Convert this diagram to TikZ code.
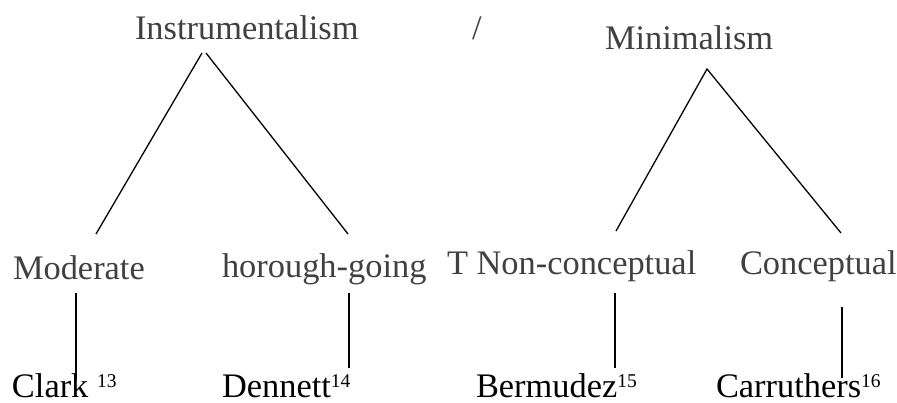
\documentclass[tikz,border=0pt]{standalone}
\usepackage{fontspec}
\setmainfont{Liberation Serif}
\definecolor{headgray}{HTML}{404040}
\newcommand{\fnmark}[1]{\textsuperscript{\fontsize{19.5}{20}\selectfont #1}}
\begin{document}
\begin{tikzpicture}[x=1pt,y=-1pt,
  txtbase/.style={anchor=base west,inner sep=0pt,outer sep=0pt,font=\fontsize{34.4}{40}\selectfont},
  headtxt/.style={txtbase,text=headgray},
  persontxt/.style={txtbase,text=black,text depth=0pt},
  branch/.style={draw=black,line width=1.3pt}]
\useasboundingbox (0,0) rectangle (897,403);

% upper row
\node[headtxt] (instr) at (135,40) {Instrumentalism};
\node[headtxt] (slash) at (472,40) {/};
\node[headtxt] (minim) at (605,50) {Minimalism};

% middle row
\node[headtxt] (moderate) at (13,280) {Moderate};
\node[headtxt] (thorough) at (222,278) {horough-going};
\node[headtxt] (noncon) at (447,275) {T Non-conceptual};
\node[headtxt] (concept) at (740,275) {Conceptual};

% lower row with footnote marks
\node[persontxt] (clark) at (12,397) {Clark \fnmark{13}};
\node[persontxt] (dennett) at (222,397) {Dennett\fnmark{14}};
\node[persontxt] (bermudez) at (476,397) {Bermudez\fnmark{15}};
\node[persontxt] (carruthers) at (716,397) {Carruthers\fnmark{16}};

% connector end points
\coordinate (instr-l) at (202,53);
\coordinate (instr-r) at (206,53);
\coordinate (moderate-top) at (96,234);
\coordinate (thorough-top) at (348,234);
\coordinate (minim-apex) at (707,69);
\coordinate (noncon-top) at (616,231);
\coordinate (concept-top) at (841,233);
\coordinate (moderate-bot) at (76,293);
\coordinate (clark-top) at (76,380);
\coordinate (thorough-bot) at (349,293);
\coordinate (dennett-top) at (349,368);
\coordinate (noncon-bot) at (615,293);
\coordinate (bermudez-top) at (615,368);
\coordinate (concept-bot) at (842,307);
\coordinate (carruthers-top) at (842,378);

% tree branches
\draw[branch] (instr-l) -- (moderate-top);
\draw[branch] (instr-r) -- (thorough-top);
\draw[branch] (noncon-top) -- (minim-apex) -- (concept-top);
\draw[branch] (moderate-bot) -- (clark-top);
\draw[branch] (thorough-bot) -- (dennett-top);
\draw[branch] (noncon-bot) -- (bermudez-top);
\draw[branch] (concept-bot) -- (carruthers-top);
\end{tikzpicture}
\end{document}
